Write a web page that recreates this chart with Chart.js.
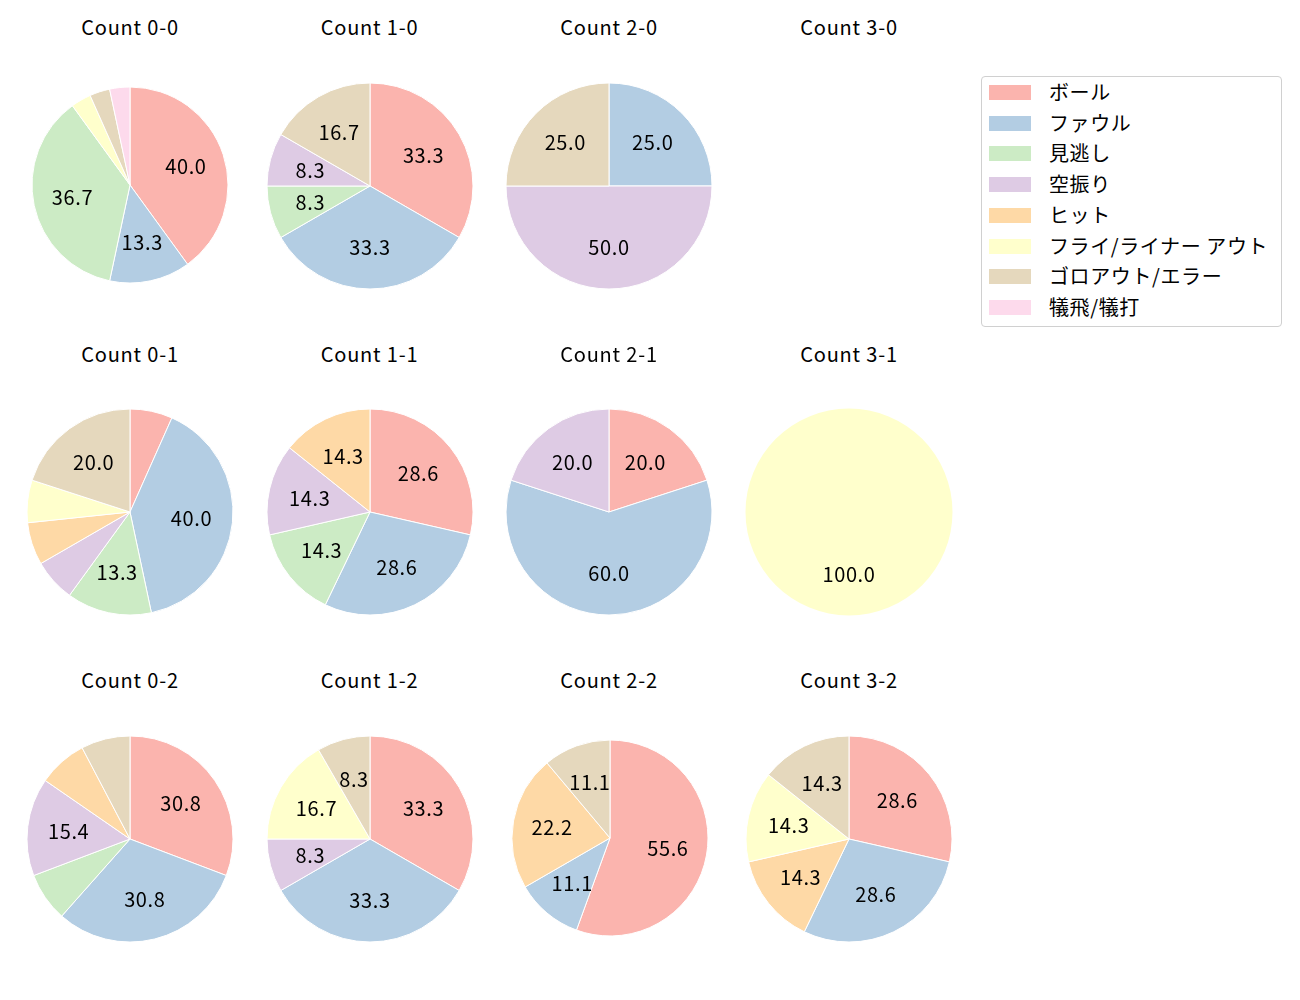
<!DOCTYPE html>
<html>
<head>
<meta charset="utf-8">
<script src="https://cdn.jsdelivr.net/npm/chart.js@4"></script>
<style>
    body { margin: 0; background: #fff; font-family: "Noto Sans CJK JP", "Noto Sans", sans-serif; }
    #page { position: relative; width: 1300px; height: 1000px; }
    .title { position: absolute; width: 240px; text-align: center; font-size: 20px; color: #000; line-height: 24px; letter-spacing: 0.8px; }
    .cell { position: absolute; width: 240px; height: 240px; }
    #legend { position: absolute; left: 981px; top: 76px; width: 301px; height: 251px;
              border: 1px solid #d0d0d0; border-radius: 4px; box-sizing: border-box; }
    .item { position: absolute; left: 7px; height: 20px; font-size: 20px; line-height: 20px; color: #000; }
    .swatch { position: absolute; left: 0; top: 1px; width: 42px; height: 15px; }
    .item span { position: absolute; left: 60px; top: -2px; white-space: nowrap; letter-spacing: 0.6px; }
</style>
</head>
<body>
<div id="page"><div id="legend"></div></div>
<script>
const categories = ['ボール', 'ファウル', '見逃し', '空振り', 'ヒット', 'フライ/ライナー アウト', 'ゴロアウト/エラー', '犠飛/犠打'];
const colors = ['#fbb4ae', '#b3cde3', '#ccebc5', '#decbe4', '#fed9a6', '#ffffcc', '#e5d8bd', '#fddaec'];

const countLabels = ['0-0', '1-0', '2-0', '3-0', '0-1', '1-1', '2-1', '3-1', '0-2', '1-2', '2-2', '3-2'];

// pitch counts per category for each ball-strike count
const count00 = [12, 4, 11, 0, 0, 1, 1, 1];
const count10 = [4, 4, 1, 1, 0, 0, 2, 0];
const count20 = [0, 1, 0, 2, 0, 0, 1, 0];
const count30 = [0, 0, 0, 0, 0, 0, 0, 0];
const count01 = [1, 6, 2, 1, 1, 1, 3, 0];
const count11 = [2, 2, 1, 1, 1, 0, 0, 0];
const count21 = [1, 3, 0, 1, 0, 0, 0, 0];
const count31 = [0, 0, 0, 0, 0, 1, 0, 0];
const count02 = [4, 4, 1, 2, 1, 0, 1, 0];
const count12 = [4, 4, 0, 1, 0, 2, 1, 0];
const count22 = [5, 1, 0, 0, 2, 0, 1, 0];
const count32 = [2, 2, 0, 0, 1, 1, 1, 0];

const allCounts = [count00, count10, count20, count30, count01, count11, count21, count31, count02, count12, count22, count32];

// grid layout
const colX = [130, 369.5, 609, 849];
const rowY = [186, 512, 838.5];
const titleY = [15, 342, 668];

// percentage labels inside slices, like autopct
const pctLabels = {
    id: 'pctLabels',
    afterDatasetsDraw(chart) {
        const ctx = chart.ctx;
        const meta = chart.getDatasetMeta(0);
        const data = chart.data.datasets[0].data;
        const total = data.reduce((s, v) => s + v, 0);
        if (!total) return;
        ctx.save();
        ctx.font = '20px "Noto Sans CJK JP", sans-serif';
        ctx.letterSpacing = '0.6px';
        ctx.fillStyle = '#000';
        ctx.textAlign = 'center';
        ctx.textBaseline = 'middle';
        meta.data.forEach((arc, i) => {
            const pct = data[i] / total * 100;
            if (pct < 8) return;
            const mid = (arc.startAngle + arc.endAngle) / 2;
            const r = arc.outerRadius * 0.6;
            ctx.fillText(pct.toFixed(1), arc.x + Math.cos(mid) * r, arc.y + Math.sin(mid) * r);
        });
        ctx.restore();
    }
};

const page = document.getElementById('page');

countLabels.forEach((label, k) => {
    const col = k % 4, row = Math.floor(k / 4);
    let cx = colX[col], cy = rowY[row], radius = 103;
    if (label === '0-0') { cy = 185; radius = 98; }
    if (label === '2-2') { cx = 610; cy = 838; radius = 98; }

    const title = document.createElement('div');
    title.className = 'title';
    title.style.left = (colX[col] - 120) + 'px';
    title.style.top = titleY[row] + 'px';
    title.textContent = 'Count ' + label;
    page.appendChild(title);

    const values = allCounts[k];
    const total = values.reduce((s, v) => s + v, 0);
    if (!total) return;

    const cell = document.createElement('div');
    cell.className = 'cell';
    cell.style.left = (cx - 120) + 'px';
    cell.style.top = (cy - 120) + 'px';
    const canvas = document.createElement('canvas');
    cell.appendChild(canvas);
    page.appendChild(cell);

    new Chart(canvas.getContext('2d'), {
        type: 'pie',
        data: {
            labels: categories,
            datasets: [{
                data: values,
                backgroundColor: colors,
                borderColor: '#ffffff',
                borderWidth: c => (c.raw > 0 && c.raw < total) ? 1 : 0
            }]
        },
        options: {
            responsive: true,
            maintainAspectRatio: false,
            animation: false,
            layout: { padding: 120 - radius - 0.5 },
            plugins: {
                legend: { display: false },
                tooltip: { enabled: false }
            }
        },
        plugins: [pctLabels]
    });
});

// legend
const legend = document.getElementById('legend');
categories.forEach((name, i) => {
    const item = document.createElement('div');
    item.className = 'item';
    item.style.top = (7 + i * 30.7) + 'px';
    const sw = document.createElement('div');
    sw.className = 'swatch';
    sw.style.background = colors[i];
    const txt = document.createElement('span');
    txt.textContent = name;
    item.appendChild(sw);
    item.appendChild(txt);
    legend.appendChild(item);
});
</script>
</body>
</html>
